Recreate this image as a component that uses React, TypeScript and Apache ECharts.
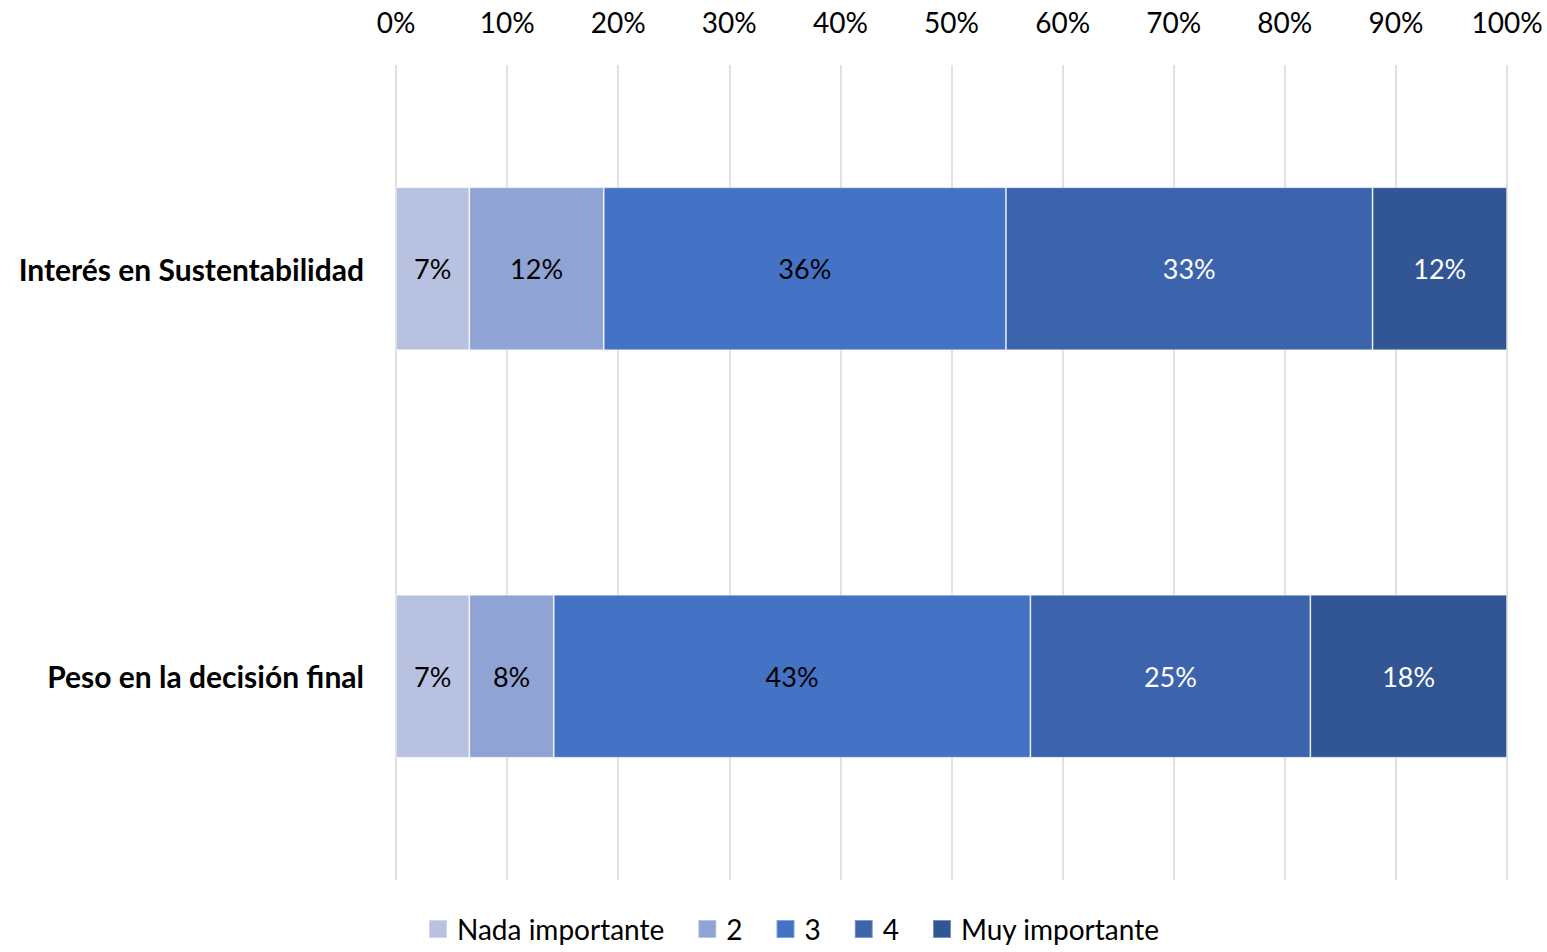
import React, { useEffect, useRef } from "react";
import * as echarts from "echarts";

// Survey rows (top to bottom) and response levels
const categories = ["Interés en Sustentabilidad", "Peso en la decisión final"];
const levels = ["Nada importante", "2", "3", "4", "Muy importante"];

// Share of responses per level, in percent, one entry per row
const nadaImportante = [6.6, 6.6];
const nivel2 = [12.1, 7.6];
const nivel3 = [36.2, 42.9];
const nivel4 = [33.0, 25.2];
const muyImportante = [12.1, 17.7];

const seriesValues = [nadaImportante, nivel2, nivel3, nivel4, muyImportante];
const colors = ["#B8C2E0", "#8FA3D4", "#4472C4", "#3C64AC", "#325593"];
const labelColors = ["#000000", "#000000", "#000000", "#FFFFFF", "#FFFFFF"];

const FONT = "Lato, 'Noto Sans', sans-serif";

export default function App() {
  const ref = useRef<HTMLDivElement>(null);

  useEffect(() => {
    document.body.style.margin = "0";
    document.body.style.overflow = "hidden";
    if (!ref.current) return;
    const chart = echarts.init(ref.current, null, { renderer: "svg" });
    chart.setOption({
      animation: false,
      backgroundColor: "#ffffff",
      textStyle: { fontFamily: FONT },
      grid: { left: 396, right: 40, top: 65, bottom: 72, containLabel: false },
      xAxis: {
        type: "value",
        position: "top",
        min: 0,
        max: 100,
        interval: 10,
        axisLine: { show: false },
        axisTick: { show: false },
        axisLabel: {
          formatter: "{value}%",
          fontSize: 28,
          color: "#000000",
          fontFamily: FONT,
          margin: 29,
        },
        splitLine: { show: true, lineStyle: { color: "#D9D9D9", width: 1.5 } },
      },
      yAxis: {
        type: "category",
        data: categories,
        inverse: true,
        axisLine: { show: false },
        axisTick: { show: false },
        axisLabel: {
          fontSize: 30,
          fontWeight: "bold",
          color: "#000000",
          fontFamily: FONT,
          margin: 32,
        },
      },
      legend: {
        left: 423,
        top: 910,
        icon: "rect",
        itemWidth: 18,
        itemHeight: 18,
        itemGap: 33,
        textStyle: { fontSize: 28, color: "#000000", fontFamily: FONT, padding: [0, 0, 0, 5] },
        data: levels,
      },
      series: levels.map((name, i) => ({
        name,
        type: "bar",
        stack: "total",
        barWidth: "40%",
        data: seriesValues[i],
        itemStyle: {
          color: colors[i],
          borderColor: "rgba(255,255,255,0.35)",
          borderWidth: 1,
        },
        label: {
          show: true,
          position: "inside",
          formatter: (p: any) => `${Math.round(p.value)}%`,
          fontSize: 27,
          color: labelColors[i],
          fontFamily: FONT,
        },
      })),
    });
    return () => chart.dispose();
  }, []);

  return <div ref={ref} style={{ width: 1547, height: 952 }} />;
}
